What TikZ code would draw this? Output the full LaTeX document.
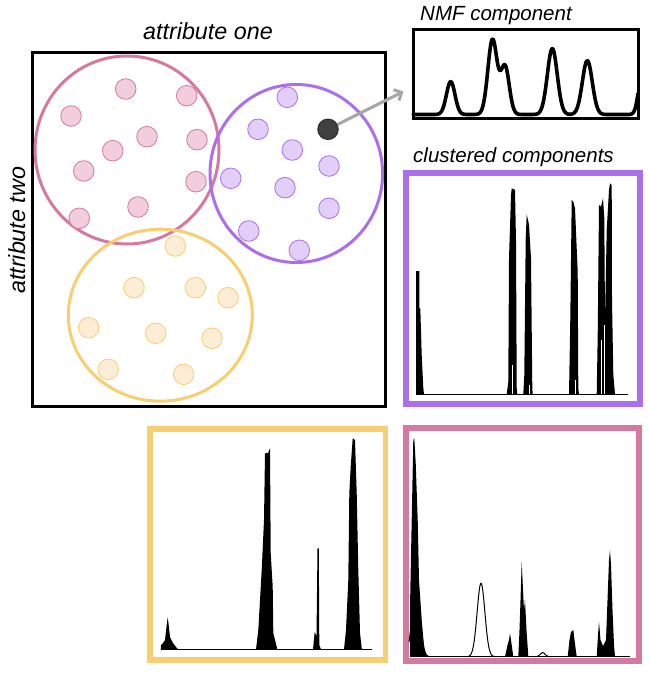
\documentclass[tikz,border=0pt]{standalone}
\usepackage{fontspec}
\setmainfont{Liberation Sans}
\usetikzlibrary{arrows.meta}
\definecolor{cpink}{RGB}{213,121,163}
\definecolor{cpurple}{RGB}{172,110,234}
\definecolor{cyellow}{RGB}{249,206,112}
\definecolor{fpink}{RGB}{241,205,221}
\definecolor{fpurple}{RGB}{226,206,248}
\definecolor{fyellow}{RGB}{253,236,214}
\definecolor{cgray}{RGB}{166,166,166}
\tikzset{
  lab/.style={font=\itshape\fontsize{23.3}{28}\selectfont, inner sep=0pt},
  labs/.style={font=\itshape\fontsize{20.5}{25}\selectfont, inner sep=0pt},
  dotbase/.style={circle, minimum size=20.6pt, inner sep=0pt, line width=0.8pt},
  pdot/.style={dotbase, draw=cpink, fill=fpink},
  udot/.style={dotbase, draw=cpurple, fill=fpurple},
  ydot/.style={dotbase, draw=cyellow, fill=fyellow},
  blackdot/.style={dotbase, draw=black!85, fill=black!75},
  framebox/.style={draw=black, line width=3pt},
  clusterbox/.style={line width=5.8pt},
  spec/.style={fill=black},
  baseln/.style={draw=black, line width=1.1pt},
  outln/.style={draw=black, line width=1pt},
  gap/.style={draw=white, line width=0.7pt},
}
\begin{document}
\begin{tikzpicture}[x=1pt,y=-1pt]
\useasboundingbox (0,0) rectangle (648,684);

% labels
\node[lab, anchor=base west] (t1) at (143,40) {attribute one};
\node[lab, rotate=90, anchor=base west] (t2) at (25,294) {attribute two};
\node[labs, anchor=base west] (t3) at (420,21) {NMF component};
\node[labs, anchor=base west] (t4) at (413,162.5) {clustered components};

% main scatter box
\draw[framebox] (32,53) rectangle (385.7,406.5);

% cluster circles
\draw[cpink, line width=3pt] (127,150) ellipse [x radius=92pt, y radius=94pt];
\draw[cpurple, line width=3pt] (296.3,173.5) ellipse [x radius=86.3pt, y radius=89pt];
\draw[cyellow, line width=3pt] (160.3,315.2) ellipse [x radius=92pt, y radius=86pt];

% pink dots
\node[pdot] (p1) at (125.7,89) {};
\node[pdot] (p2) at (186.7,95.7) {};
\node[pdot] (p3) at (71,116) {};
\node[pdot] (p4) at (147,136.7) {};
\node[pdot] (p5) at (197,139.7) {};
\node[pdot] (p6) at (112.7,150.7) {};
\node[pdot] (p7) at (83.7,171) {};
\node[pdot] (p8) at (196,181.7) {};
\node[pdot] (p9) at (138,207) {};
\node[pdot] (p10) at (79.3,218.3) {};

% purple dots
\node[udot] (u1) at (287.3,97.3) {};
\node[udot] (u2) at (258,129.3) {};
\node[udot] (u3) at (292.3,150) {};
\node[udot] (u4) at (329,166) {};
\node[udot] (u5) at (230.7,178.3) {};
\node[udot] (u6) at (285,187.7) {};
\node[udot] (u7) at (329,208.3) {};
\node[udot] (u8) at (248.7,231) {};
\node[udot] (u9) at (299.3,250.3) {};
\node[blackdot] (bdot) at (328,129.3) {};

% yellow dots
\node[ydot] (y1) at (175.3,246) {};
\node[ydot] (y2) at (134,287.7) {};
\node[ydot] (y3) at (195.3,287.7) {};
\node[ydot] (y4) at (228,297.7) {};
\node[ydot] (y5) at (88.7,327.7) {};
\node[ydot] (y6) at (155.7,333.3) {};
\node[ydot] (y7) at (212,338.3) {};
\node[ydot] (y8) at (108.3,369.3) {};
\node[ydot] (y9) at (183.7,374.3) {};

% NMF component box and curve
\node[framebox, minimum width=225.6pt, minimum height=88.4pt, inner sep=0pt, anchor=north west] (nmf) at (411.7,28.3) {};
\coordinate (tip) at (403.5,91.5);
\draw[cgray, line width=3pt, -{Straight Barb[length=6pt,width=12pt,line width=3pt]}] (bdot) -- (tip);
\begin{scope}
\clip (411.7,20) rectangle (637.3,118);
\draw[line width=3.6pt, line join=round, line cap=round]
  plot[domain=413:638, samples=226, smooth]
  (\x, {114.5 - 33*exp(-((\x-450.7)/6)^2) - 75*exp(-((\x-492.5)/6.5)^2)
        - 48*exp(-((\x-505)/6)^2) - 66*exp(-((\x-552.3)/7)^2)
        - 54*exp(-((\x-587.3)/7)^2) - 40*exp(-((\x-642)/5)^2)});
\end{scope}

% clustered component boxes
\draw[clusterbox, cpurple] (406,173.3) rectangle (640,404);
\draw[clusterbox, cyellow] (150.3,429) rectangle (385.5,660.3);
\draw[clusterbox, cpink] (405.7,427.8) rectangle (639,661);

% purple box spectra
\draw[baseln] (416,394.3) -- (628.3,394.3);
\fill[spec] (416,394.3) -- (416,271) -- (419.3,271) -- (419.3,308.3) -- (420.3,308.3)
  -- (421.7,355) -- (423.3,388) -- (424,394.3) -- cycle;
\fill[spec] (506.7,394.3) -- (508.3,381.7) -- (509,258.3) -- (511,195) -- (511.7,188.3)
  -- (515,190) -- (516,241.7) -- (516.7,388.3) -- (517.3,394.3) -- cycle;
\fill[spec] (523.3,394.3) -- (524.3,375) -- (525.7,238.3) -- (526.7,215) -- (527.7,218.3)
  -- (529,225) -- (531,258.3) -- (532.3,388.3) -- (532.7,394.3) -- cycle;
\fill[spec] (569,394.3) -- (570.3,318.3) -- (571.7,200) -- (573.3,201.7) -- (575,208.3)
  -- (577.7,271.7) -- (578.3,388.3) -- (579,394.3) -- cycle;
\fill[spec] (596.7,394.3) -- (597.7,335) -- (599,205) -- (601,206.7) -- (603,198.3)
  -- (604.3,218.3) -- (605,320) -- (606.7,230) -- (609,190) -- (610,183.3)
  -- (611.7,185) -- (612,300) -- (613.3,375) -- (615,394.3) -- cycle;
\draw[gap] (601.5,393.5) -- (601.5,340);
\draw[gap] (604.8,393.5) -- (604.8,325);
\draw[gap] (512.5,393.5) -- (512.5,365);
\draw[gap] (575.5,393.5) -- (575.5,380);
\draw[gap] (529.5,393.5) -- (529.5,385);

% yellow box spectra
\draw[baseln] (160.7,649.3) -- (372.3,649.3);
\fill[spec] (160.7,649.3) -- (161,645) -- (163,643) -- (165,640) -- (166.7,625)
  -- (167.7,617.3) -- (168.7,625) -- (170,637) -- (173,643) -- (176,647) -- (178,649.3) -- cycle;
\fill[spec] (256,649.3) -- (258.3,630) -- (261.7,570) -- (264,520) -- (265,453.3)
  -- (268,453) -- (270,448.3) -- (270.7,553) -- (272.7,586.7) -- (273.3,633)
  -- (276.7,646.7) -- (277.3,649.3) -- cycle;
\fill[spec] (313,649.3) -- (314.7,632) -- (316.5,636) -- (317.5,548.3) -- (318.8,548.3)
  -- (319.3,645) -- (321,649.3) -- cycle;
\fill[spec] (344,649.3) -- (346,630) -- (348.3,580) -- (349.3,493) -- (350.7,466.7)
  -- (352.7,438.3) -- (355,440) -- (356.7,493) -- (358.3,570) -- (360,633)
  -- (361.7,648) -- (362.5,649.3) -- cycle;

% pink box spectra
\draw[baseln] (410,656.7) -- (630,656.7);
\fill[spec] (410,656.7) -- (410,606.7) -- (411.7,520) -- (413.3,440) -- (414.3,438.3)
  -- (415.7,463) -- (417.7,520) -- (419,580) -- (421.7,620) -- (424.3,650)
  -- (426.7,656.7) -- cycle;
\draw[outln] plot[domain=409:430, samples=60, smooth]
  (\x, {656.7 - 73.4*exp(-((\x-416)/5.5)^2)});
\draw[outln] plot[domain=466:497, samples=80, smooth]
  (\x, {656.7 - 73.4*exp(-((\x-481)/5.5)^2)});
\draw[outln] plot[domain=534:552, samples=40, smooth]
  (\x, {656.7 - 4*exp(-((\x-542.7)/3.5)^2)});
\fill[spec] (505,656.7) -- (507.5,645) -- (509,640) -- (510,633.3) -- (511,640)
  -- (513.3,656.7) -- cycle;
\fill[spec] (518.3,656.7) -- (519.5,630) -- (520.5,600) -- (521.7,561.7) -- (523,590)
  -- (524,610) -- (525,600) -- (526.5,630) -- (528.3,656.7) -- cycle;
\fill[spec] (567.7,656.7) -- (569.5,640) -- (571,632) -- (573.3,630) -- (574.5,640)
  -- (576.7,656.7) -- cycle;
\fill[spec] (596.7,656.7) -- (598,635) -- (599,621.7) -- (600.5,640) -- (603,646)
  -- (606,640) -- (607.5,600) -- (609,560) -- (610,550) -- (611,565) -- (612.5,610)
  -- (614,645) -- (615,656.7) -- cycle;
\end{tikzpicture}
\end{document}
